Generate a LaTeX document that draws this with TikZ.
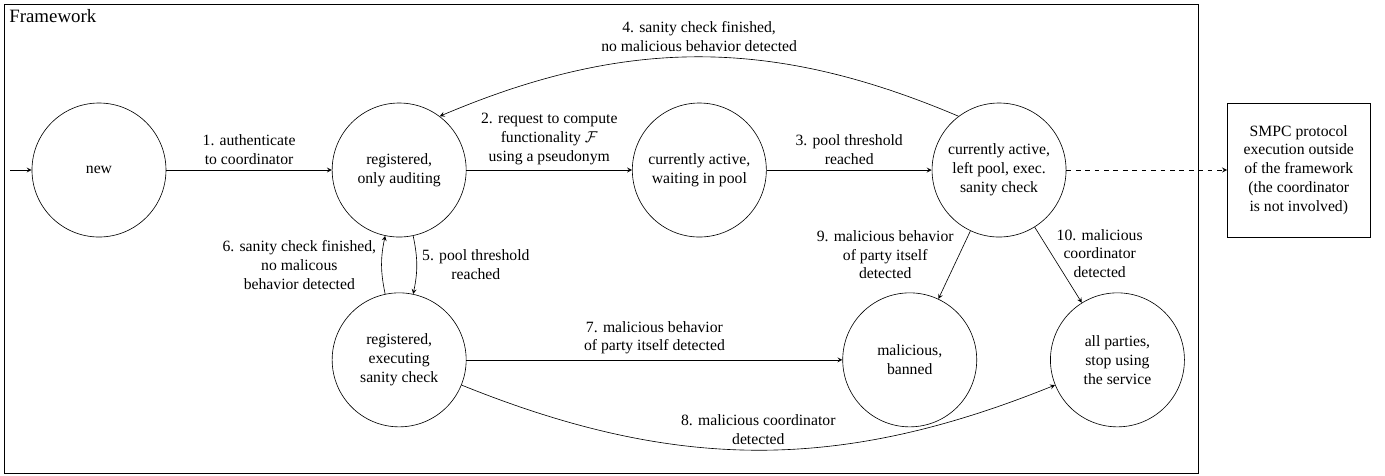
\documentclass[tikz,border=0pt]{standalone}
\usepackage{fontspec}
\setmainfont{Liberation Serif}

\begin{document}
\begin{tikzpicture}[
	>=stealth,
	state/.style={
		circle,
		draw=black,
		align=center,
		minimum size=3cm
	},
	outside/.style={
		rectangle,
		draw=black,
		align=center,
		minimum height=3cm,
		minimum width=3.2cm
	},
	note/.style={
		align=center
	},
]

\useasboundingbox (-2.216, -6.85) rectangle (28.79, 3.806);

% framework border
\draw (-2.13, -6.78) rectangle (24.6, 3.72);
\node[anchor=north west, font=\large] (fw) at (-2.13, 3.72) {Framework};

\node[state] (new) at (0, 0) {new};
\node[state] (reg) at (6.72, 0) {registered,\\only auditing};
\node[state] (pool) at (13.44, 0) {currently active,\\waiting in pool};
\node[state] (check) at (20.15, 0) {currently active,\\left pool, exec.\\sanity check};

\node[state] (exec) at (6.72, -4.25) {registered,\\executing\\sanity check};
\node[state] (banned) at (18.15, -4.25) {malicious,\\banned};
\node[state] (stop) at (22.8, -4.25) {all parties,\\stop using\\the service};

\node[outside] (smpc) at (26.86, 0) {SMPC protocol\\execution outside\\of the framework\\(the coordinator\\is not involved)};

\coordinate (entry) at (-1.99, 0);

\draw[->] (entry) -- (new);
\draw[->] (new) -- node[note, above] {1. authenticate\\to coordinator} (reg);
\draw[->] (reg) -- node[note, above] {2. request to compute\\functionality $\mathcal{F}$\\using a pseudonym} (pool);
\draw[->] (pool) -- node[note, above] {3. pool threshold\\reached} (check);
\draw[->] (check.127) to[bend right=23] node[note, above] {4. sanity check finished,\\no malicious behavior detected} (reg.53);

\draw[->] (reg) to[bend left=12] node[note, right] {5. pool threshold\\reached} (exec);
\draw[->] (exec) to[bend left=12] node[note, left] {6. sanity check finished,\\no malicous\\behavior detected} (reg);

\draw[->] (exec) -- node[note, above] {7. malicious behavior\\of party itself detected} (banned);
\draw[->] (exec) to[bend right=22] node[note, above] {8. malicious coordinator\\detected} (stop);

\draw[->] (check) -- node[note, left, pos=0.35] {9. malicious behavior\\of party itself\\detected} (banned);
\draw[->] (check) -- node[note, right, pos=0.35] {10. malicious\\coordinator\\detected} (stop);

\draw[->, dashed] (check) -- (smpc);

\end{tikzpicture}
\end{document}
